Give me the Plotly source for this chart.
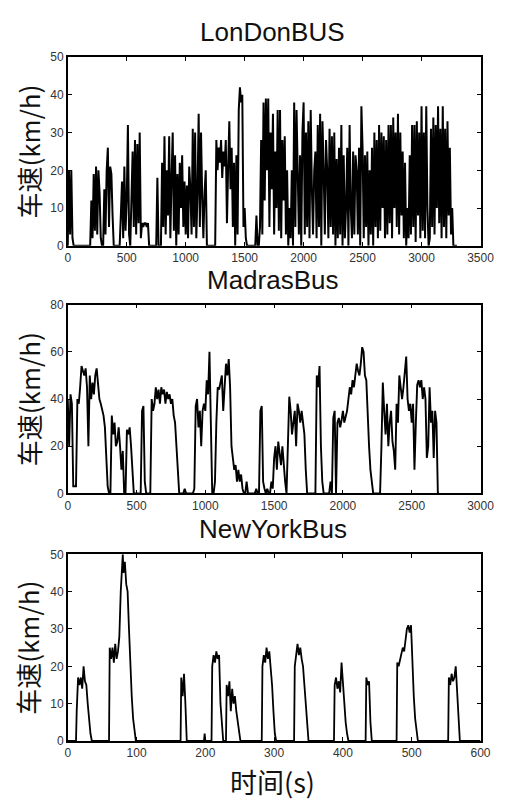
import plotly.graph_objects as go

# ---------------- data ----------------
titles = ["LonDonBUS", "MadrasBus", "NewYorkBus"]
y_label = "车速(km/h)"
x_label = "时间(s)"

london_step = 10  # s between samples
london_v = [
    0, 20, 3, 20, 2, 0, 0, 0, 0, 0,
    0, 0, 0, 0, 0, 0, 0, 0, 0, 0,
    12, 2, 19, 4, 21, 3, 20, 14, 2, 0,
    0, 15, 3, 20, 26, 5, 21, 19, 8, 0,
    0, 0, 0, 0, 0, 8, 17, 2, 21, 4,
    12, 32, 3, 0, 10, 25, 5, 28, 3, 27,
    6, 30, 2, 6, 5, 6, 6, 5, 6, 0,
    0, 0, 0, 0, 0, 0, 18, 0, 0, 0,
    22, 5, 29, 3, 20, 8, 29, 2, 18, 30,
    4, 24, 0, 19, 3, 22, 10, 24, 5, 17,
    3, 16, 2, 21, 15, 3, 31, 5, 30, 2,
    14, 35, 5, 30, 13, 2, 14, 20, 0, 0,
    0, 0, 0, 0, 0, 0, 28, 20, 26, 22,
    28, 18, 25, 21, 28, 6, 21, 33, 15, 26,
    5, 22, 0, 24, 3, 36, 42, 38, 40, 5,
    10, 2, 0, 0, 0, 0, 0, 0, 0, 0,
    8, 0, 0, 5, 28, 3, 38, 12, 39, 20,
    39, 5, 30, 15, 35, 3, 25, 10, 36, 4,
    36, 2, 28, 12, 29, 3, 20, 0, 10, 2,
    20, 0, 38, 5, 36, 20, 3, 24, 0, 30,
    38, 3, 30, 5, 33, 2, 36, 15, 3, 20,
    25, 2, 32, 5, 35, 0, 33, 20, 3, 28,
    20, 2, 31, 5, 29, 3, 30, 0, 23, 2,
    26, 3, 32, 0, 24, 2, 10, 26, 0, 32,
    10, 2, 25, 3, 24, 20, 3, 26, 0, 37,
    26, 2, 24, 5, 25, 0, 20, 3, 26, 0,
    30, 5, 28, 2, 32, 4, 30, 10, 29, 2,
    28, 3, 32, 6, 32, 2, 34, 10, 30, 5,
    35, 3, 30, 8, 25, 2, 22, 0, 10, 2,
    24, 3, 32, 5, 32, 1, 33, 8, 30, 2,
    37, 4, 30, 2, 37, 10, 0, 2, 31, 5,
    34, 3, 32, 10, 37, 6, 31, 2, 37, 5,
    31, 2, 33, 8, 26, 3, 10, 0, 0, 0,
    0,
]

madras_step = 10
madras_v = [
    40, 20, 42, 38, 3, 3, 3, 40, 38, 45,
    54, 52, 50, 53, 45, 20, 50, 40, 47, 42,
    50, 53, 45, 40, 38, 35, 33, 28, 15, 3,
    0, 0, 33, 25, 30, 20, 22, 28, 20, 10,
    18, 0, 0, 27, 25, 28, 20, 10, 0, 0,
    0, 0, 0, 0, 35, 37, 5, 0, 0, 0,
    0, 40, 35, 38, 45, 40, 44, 38, 45, 42,
    44, 38, 43, 40, 42, 38, 40, 33, 30, 20,
    10, 0, 0, 0, 0, 2, 0, 0, 0, 0,
    0, 0, 2, 37, 40, 28, 35, 20, 35, 38,
    35, 48, 42, 60, 30, 0, 0, 5, 30, 45,
    44, 48, 50, 35, 48, 55, 50, 57, 45, 20,
    15, 10, 12, 5, 10, 5, 8, 2, 0, 0,
    5, 0, 0, 0, 0, 0, 0, 2, 0, 0,
    35, 37, 5, 2, 0, 2, 0, 0, 5, 2,
    15, 20, 10, 22, 18, 12, 20, 10, 5, 0,
    20, 41, 35, 25, 30, 35, 20, 38, 35, 30,
    35, 30, 25, 10, 0, 0, 0, 0, 0, 0,
    0, 50, 45, 54, 20, 5, 0, 0, 0, 0,
    0, 5, 0, 32, 35, 0, 30, 32, 28, 31,
    35, 30, 33, 35, 40, 45, 42, 48, 45, 50,
    55, 52, 50, 55, 62, 60, 50, 48, 30, 20,
    10, 5, 0, 0, 0, 0, 0, 0, 20, 47,
    35, 25, 38, 20, 30, 35, 22, 18, 10, 38,
    30, 50, 45, 40, 45, 52, 58, 40, 35, 38,
    30, 38, 10, 30, 46, 48, 45, 48, 40, 45,
    40, 15, 20, 45, 30, 35, 15, 35, 30, 0,
    0,
]

ny_t = [0, 12, 13, 15, 17, 19, 21, 23, 25, 27, 29, 31, 33, 35,
        60, 61, 63, 65, 67, 69, 71, 73, 75, 77, 79, 80, 81, 83, 85, 87, 89, 91, 93, 95, 97, 99,
        164, 165, 167, 169, 171, 173,
        198, 199, 200,
        209, 210, 212, 214, 216, 218, 220, 222, 224, 226,
        230, 231, 233, 235, 237, 239, 241, 243, 245, 247, 249, 251,
        282, 283, 285, 287, 289, 291, 293, 295, 297, 299, 301, 303,
        329, 330, 332, 334, 336, 338, 340, 342, 344, 346, 348, 350,
        387, 388, 390, 392, 394, 396, 398, 400, 402, 404, 406, 408,
        433, 434, 436, 438, 440, 442,
        478, 479, 481, 483, 485, 487, 489, 491, 493, 495, 497, 499, 501, 503, 505, 507, 509,
        553, 554, 556, 558, 560, 562, 564, 566, 568, 570, 600]
ny_v = [0, 0, 8, 17, 15, 17, 14, 20, 16, 15, 10, 5, 2, 0,
        0, 25, 22, 25, 21, 26, 22, 24, 28, 40, 47, 50, 45, 48, 42, 40, 30, 20, 12, 6, 2, 0,
        0, 17, 12, 18, 10, 0,
        0, 2, 0,
        0, 20, 23, 21, 24, 22, 23, 10, 5, 0,
        0, 15, 12, 16, 8, 14, 10, 12, 8, 5, 3, 0,
        0, 20, 23, 21, 25, 22, 24, 20, 15, 8, 2, 0,
        0, 20, 24, 26, 23, 25, 22, 20, 15, 10, 4, 0,
        0, 15, 17, 14, 16, 13, 21, 15, 10, 5, 2, 0,
        0, 17, 15, 16, 5, 0,
        0, 21, 20, 22, 23, 25, 24, 28, 30, 31, 29, 31, 20, 12, 6, 2, 0,
        0, 17, 15, 18, 16, 17, 20, 12, 5, 0, 0]

x_ranges = [[0, 3500], [0, 3000], [0, 600]]
x_dticks = [500, 500, 100]
y_ranges = [[0, 50], [0, 80], [0, 50]]
y_dticks = [10, 20, 10]

# ---------------- figure ----------------
W, H = 509, 804
fig = go.Figure()

series = [
    ([i * london_step for i in range(len(london_v))], london_v),
    ([i * madras_step for i in range(len(madras_v))], madras_v),
    (ny_t, ny_v),
]

# plot boxes in pixels (left, right, top, bottom)
boxes = [(67, 494, 51, 243), (67, 494, 303, 495), (67, 494, 557, 747)]
title_y = [25, 278, 531]
line_w = [2.0, 1.9, 1.8]

cjk = "Noto Sans CJK SC"
latin = "Liberation Sans"

for i, (xs, ys) in enumerate(series):
    n = "" if i == 0 else str(i + 1)
    fig.add_trace(go.Scatter(x=xs, y=ys, mode="lines",
                             line=dict(color="black", width=line_w[i]),
                             xaxis="x" + n, yaxis="y" + n, showlegend=False))
    l, r, t, b = boxes[i]
    common = dict(showline=True, linecolor="black", linewidth=1.5, mirror="ticks",
                  ticks="inside", ticklen=4, tickcolor="black", showgrid=False,
                  zeroline=False, tickfont=dict(family=latin, size=12, color="#333"))
    fig.layout["xaxis" + n] = dict(domain=[l / W, r / W], range=x_ranges[i],
                                   dtick=x_dticks[i], tick0=0, anchor="y" + n, **common)
    fig.layout["yaxis" + n] = dict(domain=[1 - b / H, 1 - t / H], range=y_ranges[i],
                                   dtick=y_dticks[i], tick0=0, anchor="x" + n, **common)
    fig.add_annotation(text=titles[i], x=279 / W, y=1 - title_y[i] / H, xref="paper",
                       yref="paper", showarrow=False, xanchor="center", yanchor="middle",
                       font=dict(family=latin, size=26, color="#111"))
    fig.add_annotation(text=y_label, x=26 / W, y=1 - (t + b) / 2 / H, xref="paper",
                       yref="paper", showarrow=False, textangle=-90, xanchor="center",
                       yanchor="middle", font=dict(family=cjk, size=26, color="#111"))

fig.add_annotation(text=x_label, x=279 / W, y=1 - 788 / H, xref="paper", yref="paper",
                   showarrow=False, xanchor="center", yanchor="middle",
                   font=dict(family=cjk, size=27, color="#111"))

fig.update_layout(width=W, height=H, margin=dict(l=0, r=0, t=0, b=0),
                  paper_bgcolor="white", plot_bgcolor="white")

fig.write_html("out.html")
